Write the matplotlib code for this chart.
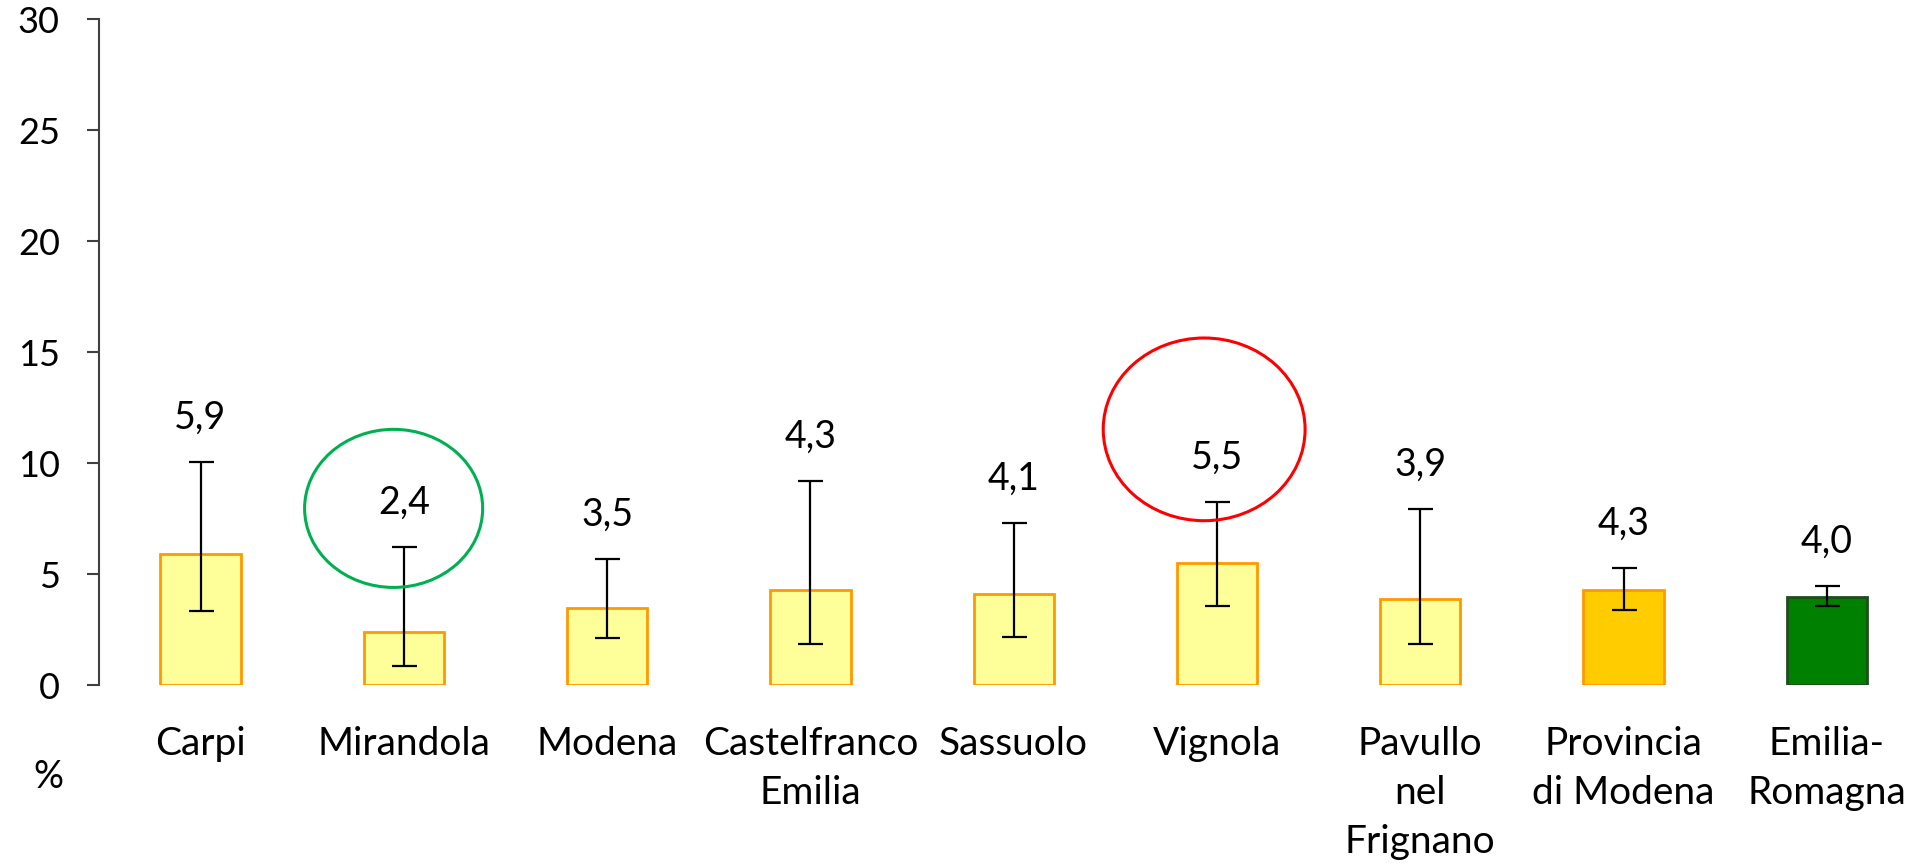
import matplotlib
matplotlib.use("Agg")
import matplotlib.pyplot as plt
from matplotlib.patches import Ellipse

categories = ["Carpi", "Mirandola", "Modena", "Castelfranco\nEmilia", "Sassuolo",
              "Vignola", "Pavullo\nnel\nFrignano", "Provincia\ndi Modena", "Emilia-\nRomagna"]
values = [5.9, 2.4, 3.5, 4.3, 4.1, 5.5, 3.9, 4.3, 4.0]
err_low = [3.37, 0.88, 2.12, 1.86, 2.19, 3.57, 1.86, 3.41, 3.56]
err_high = [10.05, 6.24, 5.69, 9.19, 7.31, 8.27, 7.95, 5.27, 4.46]
value_labels = ["5,9", "2,4", "3,5", "4,3", "4,1", "5,5", "3,9", "4,3", "4,0"]
fill_colors = ["#FFFF99"] * 7 + ["#FFCC00", "#008000"]
edge_colors = ["#FF9900"] * 8 + ["#1E4D1E"]
y_ticks = [0, 5, 10, 15, 20, 25, 30]

fig = plt.figure(figsize=(19.31, 8.65), dpi=100)
ax = fig.add_axes([0.0512, 0.2077, 0.9475, 0.77])

x = list(range(len(categories)))
lower = [v - lo for v, lo in zip(values, err_low)]
upper = [hi - v for v, hi in zip(values, err_high)]
ax.bar(x, values, width=0.395, color=fill_colors, edgecolor=edge_colors, linewidth=2, zorder=2)
ax.errorbar(x, values, yerr=[lower, upper], fmt="none", ecolor="black",
            elinewidth=1.6, capsize=9, capthick=1.6, zorder=3)

for xi, hi, lab in zip(x, err_high, value_labels):
    ax.annotate(lab, (xi, hi), xytext=(0, 32), textcoords="offset points",
                ha="center", va="center", fontsize=27, family="Lato", color="black")

ax.add_patch(Ellipse((0.95, 7.97), 0.876, 7.12, fill=False, edgecolor="#00B050", linewidth=2.2, zorder=4))
ax.add_patch(Ellipse((4.937, 11.53), 0.993, 8.23, fill=False, edgecolor="#FF0000", linewidth=2.2, zorder=4))

ax.set_xlim(-0.5, 8.5)
ax.set_ylim(0, 30)
ax.set_yticks(y_ticks)
ax.set_yticklabels([str(t) for t in y_ticks], fontsize=26, family="Lato")
ax.tick_params(axis="y", length=8.6, width=1.5, pad=19.5, color="#404040")
ax.set_xticks(x)
ax.set_xticklabels(categories, fontsize=28, family="Lato", linespacing=1.45)
ax.tick_params(axis="x", length=0, pad=29.5)

for s in ["top", "right", "bottom"]:
    ax.spines[s].set_visible(False)
ax.spines["left"].set_linewidth(1.5)
ax.spines["left"].set_color("#404040")

fig.text(48 / 1931, 1 - 777 / 865, "%", fontsize=27, family="Lato", ha="center", va="center")

fig.savefig("out.png", dpi=100)
